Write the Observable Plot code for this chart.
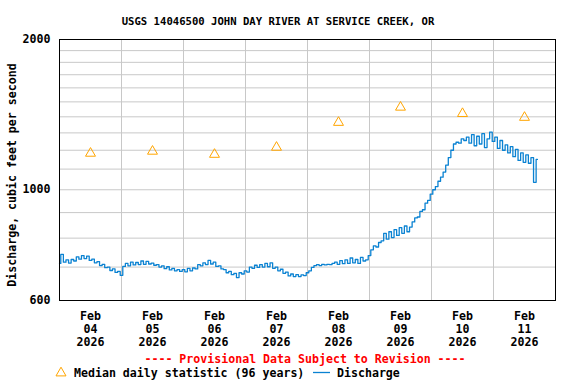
<!DOCTYPE html>
<html>
<head>
<meta charset="utf-8">
<script src="https://cdn.jsdelivr.net/npm/d3@7"></script>
<script src="https://cdn.jsdelivr.net/npm/@observablehq/plot@0.6"></script>
<style>
  html, body { margin: 0; padding: 0; background: #fff; }
  #wrap { position: relative; width: 576px; height: 384px; overflow: hidden;
          font-family: 'DejaVu Sans Mono', monospace; font-weight: bold; color: #000; }
  #title { position: absolute; left: 0; top: 15px; width: 556px; text-align: center;
           font-size: 10.6px; line-height: 12px; white-space: pre; }
  #chart { position: absolute; left: 0; top: 30px; }
  #prov { position: absolute; left: 0; top: 352px; width: 610px; text-align: center;
          font-size: 11.6px; line-height: 14px; color: #ff0000; white-space: pre; }
  .leg { position: absolute; top: 366px; font-size: 11.6px; line-height: 14px; white-space: pre; }
  .sw { position: absolute; }
</style>
</head>
<body>
<div id="wrap">
  <div id="title"></div>
  <div id="chart"></div>
  <div id="prov"></div>
  <svg class="sw" style="left:54px;top:364px" width="14" height="14">
    <path d="M7,3.2 L12,11.9 L2,11.9 Z" fill="none" stroke="#ffa500" stroke-width="1"></path>
  </svg>
  <div class="leg" id="leg1" style="left:74px"></div>
  <svg class="sw" style="left:313px;top:366px" width="18" height="12">
    <line x1="0" x2="17" y1="6.5" y2="6.5" stroke="#0a82d2" stroke-width="1.3"></line>
  </svg>
  <div class="leg" id="leg2" style="left:337px"></div>
</div>
<script>
// ---- Text ----
const titleText = "USGS 14046500 JOHN DAY RIVER AT SERVICE CREEK, OR";
const yLabel = "Discharge, cubic feet per second";
const provText = "---- Provisional Data Subject to Revision ----";
const legendMedian = "Median daily statistic (96 years)";
const legendDischarge = "Discharge";

// ---- Axis / tick values ----
const month = "Feb";
const year = "2026";
const days = ["04", "05", "06", "07", "08", "09", "10", "11"];
const yTicks = [600, 1000, 2000];
const yGrid = [700, 800, 900, 1000, 1100, 1200, 1300, 1400, 1500, 1600, 1700, 1800, 1900];

// ---- Median daily statistic (one per day, plotted at noon) ----
const medianValues = [1183, 1194, 1177, 1216, 1364, 1463, 1421, 1396];

// ---- Discharge, hourly readings starting 2026-02-04 00:00 ----
const dischargeStart = "2026-02-04T00:00:00Z";
const discharge = [
  // Feb 04
  712, 742, 716, 724, 713, 725, 720, 734, 726, 738, 728, 736, 722, 726, 714, 718, 705, 709, 698, 700, 689, 694, 683, 686,
  // Feb 05
  674, 702, 712, 704, 716, 707, 715, 708, 720, 709, 719, 710, 713, 706, 708, 700, 704, 695, 701, 691, 696, 688, 692, 686,
  // Feb 06
  692, 685, 696, 688, 697, 694, 708, 704, 714, 708, 722, 710, 716, 702, 704, 694, 692, 682, 686, 676, 680, 667, 682, 678,
  // Feb 07
  688, 684, 700, 696, 706, 699, 708, 700, 712, 701, 714, 696, 700, 688, 693, 680, 684, 672, 678, 670, 676, 670, 675, 673,
  // Feb 08
  682, 688, 699, 705, 708, 705, 709, 707, 709, 708, 712, 716, 709, 721, 711, 724, 712, 730, 714, 725, 712, 732, 720, 724,
  // Feb 09
  738, 758, 772, 768, 784, 790, 818, 796, 824, 802, 832, 810, 840, 818, 846, 824, 842, 862, 878, 882, 905, 912, 940, 952,
  // Feb 10
  980, 1000, 1015, 1040, 1060, 1085, 1120, 1160, 1200, 1235, 1245, 1240, 1265, 1255, 1275, 1240, 1290, 1225, 1280, 1235, 1295, 1215, 1265, 1305,
  // Feb 11
  1250, 1275, 1210, 1255, 1200, 1230, 1185, 1220, 1165, 1205, 1145, 1185, 1135, 1175, 1130, 1160, 1035, 1150
];

// ---- Build ----
const t0 = new Date(dischargeStart).getTime();
const HOUR = 3600000;
const dayStart = (i) => new Date(t0 + i * 24 * HOUR);
const noon = (i) => new Date(t0 + i * 24 * HOUR + 12 * HOUR);
const midnights = d3.range(1, days.length).map(dayStart);

const font = "'DejaVu Sans Mono', monospace";

const chart = Plot.plot({
  width: 576,
  height: 320,
  marginTop: 9,
  marginBottom: 50,
  marginLeft: 59,
  marginRight: 21,
  style: { fontFamily: font, fontSize: "11.6px", fontWeight: "bold", background: "white", overflow: "visible" },
  x: { type: "utc", domain: [dayStart(0), dayStart(days.length)], axis: null },
  y: { type: "log", domain: [600, 2000] },
  marks: [
    Plot.ruleY(yGrid, { stroke: "#c8c8c8", strokeWidth: 1 }),
    Plot.ruleX(midnights, { stroke: "#c8c8c8", strokeWidth: 1 }),
    Plot.line(discharge, {
      x: (d, i) => new Date(t0 + i * HOUR),
      y: (d) => d,
      stroke: "#0a82d2",
      strokeWidth: 1.3,
      curve: "step"
    }),
    Plot.dot(medianValues, {
      x: (d, i) => noon(i),
      y: (d) => d,
      symbol: "triangle",
      r: 3.7,
      fill: "none",
      stroke: "#ffa500",
      strokeWidth: 1
    }),
    Plot.frame({ stroke: "black", strokeWidth: 1 }),
    Plot.axisY({
      ticks: yTicks,
      tickSize: 0,
      tickPadding: 9,
      tickFormat: (d) => String(d),
      label: null,
      fontWeight: "bold"
    }),
    Plot.text(days, {
      x: (d, i) => noon(i),
      text: (d) => `${month}\n${d}\n${year}`,
      frameAnchor: "bottom",
      lineAnchor: "top",
      lineHeight: 1.12,
      dy: 10,
      fill: "black",
      fontWeight: "bold"
    }),
    Plot.text([yLabel], {
      text: (d) => d,
      frameAnchor: "left",
      textAnchor: "middle",
      lineAnchor: "middle",
      rotate: -90,
      dx: -47,
      dy: 5,
      fill: "black",
      fontWeight: "bold"
    })
  ]
});

document.getElementById("chart").appendChild(chart);
document.getElementById("title").textContent = titleText;
document.getElementById("prov").textContent = provText;
document.getElementById("leg1").textContent = legendMedian;
document.getElementById("leg2").textContent = legendDischarge;
</script>
</body>
</html>
